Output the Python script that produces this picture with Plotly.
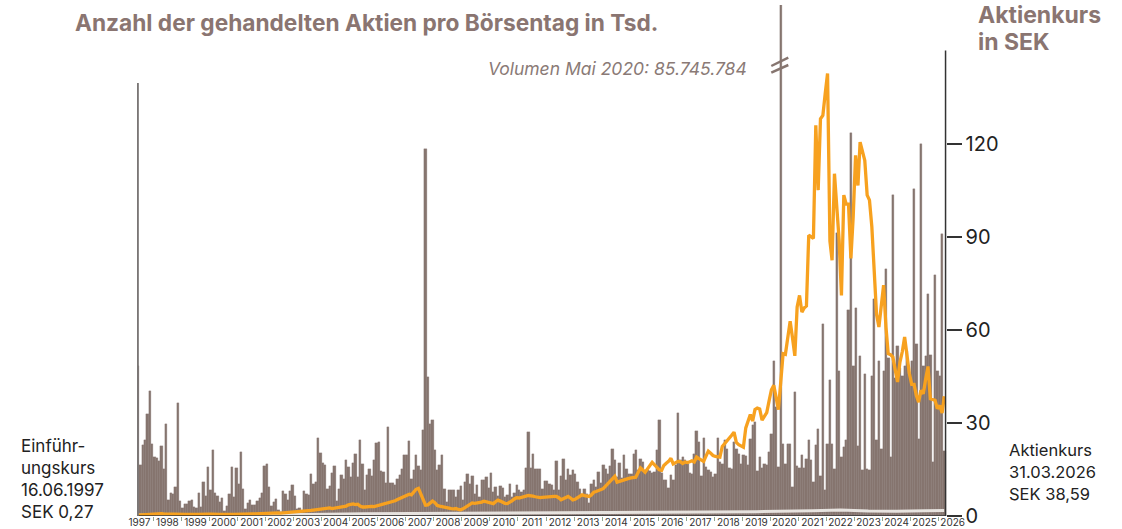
import pandas as pd
import plotly.graph_objects as go

# ---------------- data ----------------
start_month = "1997-06-01"
end_month = "2026-03-01"

# Average traded shares per trading day (Tsd.), monthly, Jun 1997 .. Mar 2026
volume_tsd = [
    # 1997 (Jun-Dec)
    1497, 507, 707, 757, 1017, 1247, 717,
    # 1998
    590, 577, 547, 697, 467, 917, 157, 227, 217, 287, 1127, 150,
    # 1999
    77, 117, 117, 147, 157, 90, 77, 230, 90, 340, 197, 490,
    # 2000
    257, 657, 230, 197, 140, 177, 50, 97, 217, 487, 190, 477,
    # 2001
    317, 637, 270, 67, 127, 157, 107, 110, 150, 177, 230, 500,
    # 2002
    517, 290, 97, 144, 170, 60, 37, 247, 217, 157, 247, 307,
    # 2003
    197, 67, 77, 50, 250, 217, 207, 417, 317, 340, 777, 627,
    # 2004
    534, 514, 274, 304, 427, 497, 147, 267, 407, 367, 557, 487,
    # 2005
    390, 527, 617, 390, 757, 524, 257, 410, 467, 400, 557, 727,
    # 2006
    737, 447, 437, 330, 890, 330, 327, 307, 367, 407, 467, 610,
    # 2007
    607, 747, 367, 457, 607, 497, 457, 857, 3667, 1387, 917, 957,
    # 2008
    657, 457, 507, 607, 274, 140, 257, 264, 264, 190, 264, 297,
    # 2009
    157, 340, 417, 324, 397, 224, 307, 190, 357, 364, 390, 284,
    # 2010
    430, 240, 290, 197, 297, 284, 190, 207, 317, 190, 230, 307,
    # 2011
    257, 240, 264, 484, 837, 484, 624, 467, 467, 467, 274, 350,
    # 2012
    350, 324, 307, 257, 547, 257, 397, 567, 357, 474, 407, 457,
    # 2013
    424, 340, 274, 207, 274, 224, 130, 324, 364, 290, 440, 330,
    # 2014
    507, 474, 424, 497, 674, 557, 390, 530, 384, 607, 474, 424,
    # 2015
    424, 624, 657, 464, 574, 540, 440, 457, 447, 430, 440, 657,
    # 2016
    957, 430, 364, 357, 284, 407, 357, 507, 1034, 557, 590, 557,
    # 2017
    524, 434, 424, 624, 850, 740, 397, 784, 490, 464, 440, 390,
    # 2018
    417, 784, 540, 524, 764, 674, 484, 474, 740, 674, 624, 524,
    # 2019
    607, 597, 507, 774, 907, 940, 450, 590, 484, 524, 507, 640,
    # 2020
    824, 1550, 1090, 490, 85746, 724, 524, 724, 724, 290, 1240, 497,
    # 2021
    484, 607, 484, 574, 757, 557, 340, 707, 874, 397, 1917, 257,
    # 2022
    724, 1357, 724, 474, 2830, 1450, 590, 690, 757, 2057, 3830, 1500,
    # 2023
    2084, 697, 1600, 464, 1420, 474, 464, 1400, 2174, 757, 1550, 674,
    # 2024
    1450, 2467, 1580, 590, 3207, 1380, 1700, 1480, 1400, 1500, 1650, 1420,
    # 2025
    1550, 3267, 1717, 774, 3717, 1500, 1600, 2224, 1607, 540, 2407, 1450,
    # 2026 (Jan-Mar)
    1400, 2824, 650,
]

# Share price in SEK, monthly, Jun 1997 .. Mar 2026
price_sek = [
    0.27, 0.32, 0.38, 0.45, 0.52, 0.6, 0.75,
    0.85, 0.9, 0.8, 0.75, 0.7, 0.65, 0.6, 0.55, 0.5, 0.55, 0.6, 0.6,
    0.55, 0.5, 0.5, 0.45, 0.45, 0.5, 0.5, 0.55, 0.5, 0.5, 0.55, 0.6,
    0.6, 0.65, 0.6, 0.6, 0.55, 0.55, 0.6, 0.6, 0.55, 0.5, 0.5, 0.55,
    0.55, 0.6, 0.6, 0.65, 0.65, 0.7, 0.7, 0.7, 0.75, 0.8, 0.8, 0.85,
    0.85, 0.9, 0.95, 1.0, 1.0, 1.0, 0.95, 1.0, 1.05, 1.1, 1.15, 1.2,
    1.25, 1.3, 1.3, 1.4, 1.5, 1.6, 1.7, 1.8, 1.9, 2.0, 2.1, 2.3,
    2.4, 2.4, 2.5, 2.6, 2.4, 2.5, 2.7, 2.9, 3.0, 2.9, 3.2, 3.6,
    3.8, 3.9, 3.7, 3.8, 3.2, 2.9, 2.9, 3.0, 2.9, 3.1, 3.0, 3.2,
    3.6, 3.8, 4.0, 4.1, 4.2, 4.5, 4.7, 4.9, 5.3, 5.6, 5.9, 6.4,
    6.7, 7.0, 6.8, 7.6, 8.6, 8.9, 7.2, 5.6, 3.5, 3.6, 4.4, 4.8,
    4.3, 3.4, 3.2, 3.0, 2.8, 2.6, 2.5, 2.4, 2.3, 2.4, 2.1, 2.0,
    2.3, 2.8, 3.3, 3.8, 4.2, 4.1, 4.2, 4.2, 4.5, 4.8, 4.6, 4.5,
    4.4, 4.0, 4.6, 5.1, 4.8, 4.4, 4.1, 4.0, 4.4, 4.9, 5.5, 5.9,
    5.8, 6.1, 6.1, 6.4, 6.6, 6.6, 6.4, 6.2, 6.0, 5.9, 6.0, 6.1,
    6.2, 6.2, 6.3, 6.3, 6.3, 5.9, 5.2, 5.6, 6.0, 6.3, 5.8, 5.2,
    5.4, 5.9, 6.4, 6.8, 6.6, 6.4, 6.3, 6.8, 7.7, 7.9, 8.3, 8.6,
    8.8, 9.6, 10.4, 11.2, 11.9, 12.8, 10.9, 11.2, 11.5, 11.7, 11.9, 12.1,
    12.3, 12.4, 12.5, 14.0, 15.5, 14.8, 14.1, 15.2, 16.3, 17.3, 16.5, 15.6,
    14.9, 14.7, 16.3, 17.0, 17.6, 18.6, 16.8, 17.2, 17.6, 17.5, 16.9, 17.4,
    17.2, 17.5, 17.8, 17.4, 19.0, 18.5, 18.0, 17.6, 19.3, 20.9, 20.2, 19.5,
    19.2, 19.1, 19.0, 22.4, 23.2, 24.1, 25.1, 26.0, 27.0, 23.7, 23.0, 22.6,
    22.2, 28.4, 30.5, 32.7, 30.6, 34.3, 34.8, 34.5, 30.9, 32.0, 33.3, 37.0,
    40.7, 42.1, 38.0, 34.3, 43.0, 52.3, 52.1, 57.0, 62.8, 57.5, 51.6, 67.4,
    71.1, 65.7, 67.0, 67.7, 90.5, 90.0, 89.4, 125.9, 105.0, 128.0, 129.1, 136.0,
    142.6, 88.6, 82.4, 110.3, 99.5, 88.8, 71.1, 103.4, 100.5, 100.5, 83.0, 96.4,
    116.2, 106.5, 120.5, 117.0, 114.6, 103.4, 101.8, 93.2, 76.0, 65.0, 60.9, 67.0,
    74.4, 60.9, 52.3, 52.0, 51.2, 47.0, 43.2, 49.6, 53.0, 57.7, 50.7, 46.0,
    42.4, 42.4, 39.0, 36.7, 40.5, 39.4, 44.0, 48.2, 37.8, 37.5, 37.3, 34.6,
    35.6, 33.2, 38.59,
]

# light reference line near the bottom (annual readings)
ref_years = [1997, 1999, 2001, 2003, 2005, 2007, 2009, 2011, 2013, 2015,
             2017, 2019, 2021, 2022, 2023, 2024, 2025, 2026]
ref_values = [0.3, 0.3, 0.35, 0.5, 0.7, 0.8, 0.85, 0.9, 1.0, 1.1,
              1.25, 1.4, 1.7, 1.9, 1.6, 1.5, 1.7, 1.8]

price_ticks = [0, 30, 60, 90, 120]
spike_month = "2020-05-01"
spike_label = "Volumen Mai 2020: 85.745.784"
title_text = "Anzahl der gehandelten Aktien pro Börsentag in Tsd."
axis_title_lines = ["Aktienkurs", "in SEK"]
left_note_lines = ["Einführ-", "ungskurs", "16.06.1997", "SEK 0,27"]
right_note_lines = ["Aktienkurs", "31.03.2026", "SEK 38,59"]

# ---------------- styling / layout ----------------
W, H = 1122, 529
BAR = "#86756f"
ORANGE = "#f7a11f"
TITLE_C = "#8a7571"
TEXT_C = "#222222"
FONT = "Inter, Roboto, Arial, sans-serif"

months = pd.date_range(start_month, end_month, freq="MS")
widths_ms = [d.days_in_month * 86400000 for d in months]
mid_month = months + pd.Timedelta(days=14)
end_edge = months[-1] + pd.offsets.MonthBegin(1)
range_end = pd.Timestamp("2026-07-20")   # room for the "2026" period label

ref_x = [pd.Timestamp(f"{y}-07-01") for y in ref_years]
ref_x[0] = pd.Timestamp("1997-06-10")
ref_x[-1] = pd.Timestamp("2026-03-15")

# pixel geometry: bars span x=137 .. 946, baseline y=516, top y=5
X_LEFT, X_BARS_END = 137, 946
px_per_day = (X_BARS_END - X_LEFT) / (end_edge - months[0]).days
PW = px_per_day * (range_end - months[0]).days
ML, MT, MB = X_LEFT, 5, 13
MR = W - ML - PW
PH = H - MT - MB

def px_x(px):
    return (px - ML) / PW

def px_y(py):
    return (H - MB - py) / PH

vol_max = PH * 10           # 10 Tsd. per pixel
price_max = PH / 3.103      # 30 SEK = 93.1 px
axis_pos = (X_BARS_END - ML) / PW

fig = go.Figure()
fig.add_trace(go.Bar(
    x=months, y=volume_tsd, width=widths_ms, offset=0,
    marker=dict(color=BAR, line=dict(color=BAR, width=0.3)),
    yaxis="y", hoverinfo="skip", showlegend=False,
))
fig.add_trace(go.Scatter(
    x=ref_x, y=ref_values, mode="lines",
    line=dict(color="#e7e3df", width=3), yaxis="y2",
    hoverinfo="skip", showlegend=False,
))
fig.add_trace(go.Scatter(
    x=mid_month, y=price_sek, mode="lines",
    line=dict(color=ORANGE, width=3.3), yaxis="y2",
    hoverinfo="skip", showlegend=False,
))

fig.update_layout(
    width=W, height=H,
    margin=dict(l=ML, r=MR, t=MT, b=MB, autoexpand=False),
    paper_bgcolor="white", plot_bgcolor="rgba(0,0,0,0)",
    font=dict(family=FONT, color=TEXT_C),
    bargap=0,
    xaxis=dict(
        type="date", range=[months[0], range_end],
        ticklabelmode="period", dtick="M12", tick0="1997-01-01",
        tickformat="%Y", ticks="outside", ticklen=4, tickwidth=1,
        tickcolor="#8fa58f", tickfont=dict(size=10, color="#333333"),
        ticklabelstandoff=-7,
        showline=False, showgrid=False, zeroline=False,
    ),
    yaxis=dict(range=[0, vol_max], visible=False, fixedrange=True),
    yaxis2=dict(
        overlaying="y", side="right", anchor="free", position=axis_pos,
        range=[0, price_max], tickvals=price_ticks,
        ticks="outside", ticklen=15, tickwidth=1.5, tickcolor="#333333",
        tickfont=dict(size=20, color=TEXT_C),
        showgrid=False, zeroline=False, showline=False,
    ),
)

# bottom axis line and right axis line (up to 150)
fig.add_shape(type="line", xref="x", yref="y2",
              x0=months[0], x1=end_edge, y0=0, y1=0,
              line=dict(color="#333333", width=1.5))
fig.add_shape(type="line", xref="x", yref="y2",
              x0=end_edge, x1=end_edge, y0=0, y1=150,
              line=dict(color="#333333", width=1.5))
# thin line at the start (IPO)
fig.add_shape(type="line", xref="x", yref="y",
              x0=pd.Timestamp("1997-06-12"), x1=pd.Timestamp("1997-06-12"),
              y0=0, y1=4330, line=dict(color="#7a7675", width=2))
# axis-break strokes on the May 2020 bar
spike_x = pd.Timestamp(spike_month) + pd.Timedelta(days=15)
for (ya, yb) in [(0, 8.3), (-6.7, 1.0)]:
    fig.add_shape(type="line", xref="x", yref="y",
                  xsizemode="pixel", ysizemode="pixel",
                  xanchor=spike_x, yanchor=4500,
                  x0=-9.5, x1=7.5, y0=ya, y1=yb,
                  line=dict(color=BAR, width=2.5))

# texts
fig.add_annotation(text=f"<b>{title_text}</b>", xref="paper", yref="paper",
                   x=px_x(73), y=px_y(22), xanchor="left", yanchor="middle",
                   showarrow=False, font=dict(size=22.7, color=TITLE_C))
for line, yc in zip(axis_title_lines, [15, 42]):
    fig.add_annotation(text=f"<b>{line}</b>", xref="paper", yref="paper",
                       x=px_x(976), y=px_y(yc), xanchor="left", yanchor="middle",
                       showarrow=False, font=dict(size=23, color=TITLE_C))
fig.add_annotation(text=f"<i>{spike_label}</i>", xref="paper", yref="paper",
                   x=px_x(749), y=px_y(68), xanchor="right", yanchor="middle",
                   showarrow=False, font=dict(size=17.5, color="#8a7a76"))
for line, yc in zip(left_note_lines, [446, 468, 490, 512]):
    fig.add_annotation(text=line, xref="paper", yref="paper",
                       x=px_x(19), y=px_y(yc), xanchor="left", yanchor="middle",
                       showarrow=False, font=dict(size=17, color=TEXT_C))
for line, yc in zip(right_note_lines, [450, 472, 494]):
    fig.add_annotation(text=line, xref="paper", yref="paper",
                       x=px_x(1007), y=px_y(yc), xanchor="left", yanchor="middle",
                       showarrow=False, font=dict(size=16.5, color=TEXT_C))

fig.write_html("out.html", config={"displayModeBar": False},
               post_script="document.body.style.margin='0';document.body.style.padding='0';")
